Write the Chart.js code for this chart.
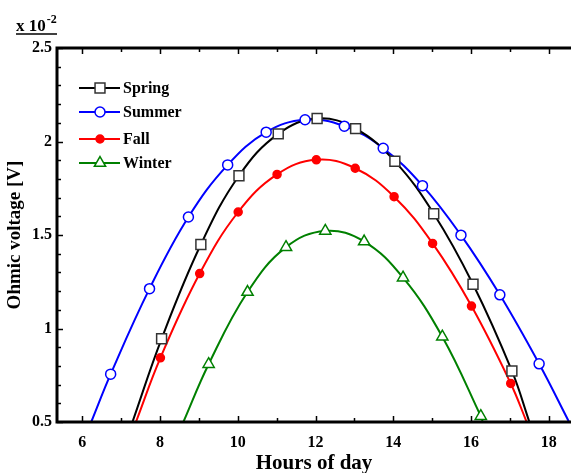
<!DOCTYPE html>
<html>
<head>
<meta charset="utf-8">
<script src="https://cdn.jsdelivr.net/npm/chart.js@4/dist/chart.umd.min.js"></script>
<style>
  html, body { margin: 0; padding: 0; background: #fff; }
  #wrap { width: 571px; height: 473px; }
</style>
</head>
<body>
<div id="wrap"><canvas id="chartCanvas"></canvas></div>
<script>
// values (hours, V x 10^-2)
const springX = [8.04, 9.05, 10.03, 11.04, 12.04, 13.03, 14.04, 15.04, 16.05, 17.05];
const springY = [0.945, 1.449, 1.817, 2.041, 2.123, 2.069, 1.894, 1.614, 1.237, 0.773];
const springEnds = [7.29, 17.5];

const summerX = [6.73, 7.73, 8.73, 9.74, 10.73, 11.73, 12.74, 13.74, 14.75, 15.74, 16.74, 17.75];
const summerY = [0.756, 1.213, 1.596, 1.875, 2.05, 2.116, 2.082, 1.964, 1.764, 1.499, 1.18, 0.811];
const summerEnds = [6.23, 18.52];

const fallX = [8.01, 9.02, 10.01, 11.01, 12.02, 13.02, 14.02, 15.01, 16.01, 17.02];
const fallY = [0.843, 1.294, 1.623, 1.824, 1.902, 1.857, 1.705, 1.455, 1.12, 0.706];
const fallEnds = [7.38, 17.43];

const winterX = [9.25, 10.25, 11.24, 12.25, 13.25, 14.25, 15.26, 16.25];
const winterY = [0.809, 1.195, 1.435, 1.522, 1.465, 1.272, 0.956, 0.531];
const winterEnds = [8.6, 16.3];

const xTicks = [6, 8, 10, 12, 14, 16, 18];
const yTicks = [0.5, 1, 1.5, 2, 2.5];
const xMin = 5.35, xMax = 18.57, yMin = 0.5, yMax = 2.5;

const FONT = "'Liberation Serif', 'Times New Roman', serif";

const seasons = [
  { label: "Spring", xs: springX, ys: springY, ends: springEnds, color: "#000000",
    style: "rect", radius: 7, fill: "#ffffff", edge: "#333333" },
  { label: "Summer", xs: summerX, ys: summerY, ends: summerEnds, color: "#0000ff",
    style: "circle", radius: 5, fill: "#ffffff", edge: "#0000ff" },
  { label: "Fall", xs: fallX, ys: fallY, ends: fallEnds, color: "#ff0000",
    style: "circle", radius: 4, fill: "#ff0000", edge: "#ff0000" },
  { label: "Winter", xs: winterX, ys: winterY, ends: winterEnds, color: "#008000",
    style: "triangle", radius: 6.5, fill: "#ffffff", edge: "#008000" },
];

function toPoints(xs, ys) {
  return xs.map((x, i) => ({ x: x, y: ys[i] }));
}

const datasets = [];
seasons.forEach((s) => {
  const pts = toPoints(s.xs, s.ys);
  datasets.push({
    label: s.label + " curve",
    data: [{ x: s.ends[0], y: yMin }, ...pts, { x: s.ends[1], y: yMin }],
    showLine: true,
    borderColor: s.color,
    borderWidth: 2,
    pointRadius: 0,
    tension: 0.4,
    order: 2,
  });
  datasets.push({
    label: s.label,
    data: pts,
    showLine: false,
    pointStyle: s.style,
    pointRadius: s.radius,
    pointBackgroundColor: s.fill,
    pointBorderColor: s.edge,
    pointBorderWidth: 1.5,
    clip: false,
    order: 1,
  });
});

function drawMarker(ctx, style, r, x, y) {
  if (style === "rect") {
    const h = r * Math.SQRT1_2;
    ctx.rect(x - h, y - h, 2 * h, 2 * h);
  } else if (style === "triangle") {
    ctx.moveTo(x, y - r);
    ctx.lineTo(x + r * Math.sin(Math.PI / 3), y + r * 0.5);
    ctx.lineTo(x - r * Math.sin(Math.PI / 3), y + r * 0.5);
    ctx.closePath();
  } else {
    ctx.arc(x, y, r, 0, Math.PI * 2);
  }
}

// frame, inward ticks, legend and the x10^-2 factor
const decorPlugin = {
  id: "decor",
  afterDatasetsDraw(chart) {
    const ctx = chart.ctx;
    const a = chart.chartArea;
    const xs = chart.scales.x;
    const ys = chart.scales.y;
    ctx.save();
    ctx.strokeStyle = "#000";

    // ticks
    ctx.lineWidth = 1.5;
    for (let v = 6; v <= 18; v += 1) {
      const px = Math.round(xs.getPixelForValue(v)) + 0.5;
      const len = v % 2 === 0 ? 6 : 4;
      ctx.beginPath();
      ctx.moveTo(px, a.bottom);
      ctx.lineTo(px, a.bottom - len);
      ctx.moveTo(px, a.top);
      ctx.lineTo(px, a.top + len);
      ctx.stroke();
    }
    for (let i = 5; i <= 25; i++) {
      const py = Math.round(ys.getPixelForValue(i / 10)) + 0.5;
      const len = i % 5 === 0 ? 6 : 4;
      ctx.beginPath();
      ctx.moveTo(a.left, py);
      ctx.lineTo(a.left + len, py);
      ctx.stroke();
    }

    // frame (right side is cut off in the original)
    ctx.lineWidth = 3;
    ctx.beginPath();
    ctx.moveTo(a.right + 2, a.top);
    ctx.lineTo(a.left, a.top);
    ctx.lineTo(a.left, a.bottom);
    ctx.lineTo(a.right + 2, a.bottom);
    ctx.stroke();

    // legend
    const rows = [88, 112, 139, 163];
    seasons.forEach((s, i) => {
      const y = rows[i];
      ctx.lineWidth = 2;
      ctx.strokeStyle = s.color;
      ctx.beginPath();
      ctx.moveTo(79, y);
      ctx.lineTo(120, y);
      ctx.stroke();
      ctx.fillStyle = s.fill;
      ctx.strokeStyle = s.edge;
      ctx.lineWidth = 1.5;
      ctx.beginPath();
      drawMarker(ctx, s.style, s.radius, 100, y);
      ctx.fill();
      ctx.stroke();
      ctx.fillStyle = "#000";
      ctx.font = "bold 16px " + FONT;
      ctx.textBaseline = "middle";
      ctx.textAlign = "left";
      ctx.fillText(s.label, 123, y + 1);
    });

    // x 10^-2
    ctx.fillStyle = "#000";
    ctx.textBaseline = "alphabetic";
    ctx.font = "bold 17px " + FONT;
    ctx.fillText("x 10", 16, 31);
    const w = ctx.measureText("x 10").width;
    ctx.font = "bold 12px " + FONT;
    ctx.fillText("-2", 16 + w + 1, 23);
    ctx.strokeStyle = "#000";
    ctx.lineWidth = 1.5;
    ctx.beginPath();
    ctx.moveTo(16, 34);
    ctx.lineTo(57, 34);
    ctx.stroke();
    ctx.restore();
  },
};

const ctx = document.getElementById("chartCanvas").getContext("2d");
window.myChart = new Chart(ctx, {
  type: "scatter",
  data: { datasets: datasets },
  plugins: [decorPlugin],
  options: {
    responsive: true,
    maintainAspectRatio: false,
    animation: false,
    layout: { autoPadding: false, padding: { top: 48, right: 0, left: 0, bottom: 0 } },
    plugins: { legend: { display: false }, tooltip: { enabled: false } },
    scales: {
      x: {
        type: "linear",
        min: xMin,
        max: xMax,
        afterFit: (scale) => {
          scale.height = 51;
          scale.paddingLeft = 0;
          scale.paddingRight = 0;
        },
        afterBuildTicks: (scale) => { scale.ticks = xTicks.map((v) => ({ value: v })); },
        grid: { display: false, drawTicks: false },
        border: { display: false },
        ticks: {
          color: "#000",
          padding: 11,
          maxRotation: 0,
          callback: (v) => String(v),
          font: { family: FONT, size: 16, weight: "bold" },
        },
        title: {
          display: true,
          text: "Hours of day",
          color: "#000",
          padding: { top: 0, bottom: -3 },
          font: { family: FONT, size: 21, weight: "bold" },
        },
      },
      y: {
        min: yMin,
        max: yMax,
        afterFit: (scale) => {
          scale.width = 57;
          scale.paddingTop = 0;
          scale.paddingBottom = 0;
        },
        afterBuildTicks: (scale) => { scale.ticks = yTicks.map((v) => ({ value: v })); },
        grid: { display: false, drawTicks: false },
        border: { display: false },
        ticks: {
          color: "#000",
          padding: 5,
          callback: (v) => String(v),
          font: { family: FONT, size: 16, weight: "bold" },
        },
        title: {
          display: true,
          text: "Ohmic voltage [V]",
          color: "#000",
          padding: { top: 4, bottom: 0 },
          font: { family: FONT, size: 19, weight: "bold" },
        },
      },
    },
  },
});
</script>
</body>
</html>
